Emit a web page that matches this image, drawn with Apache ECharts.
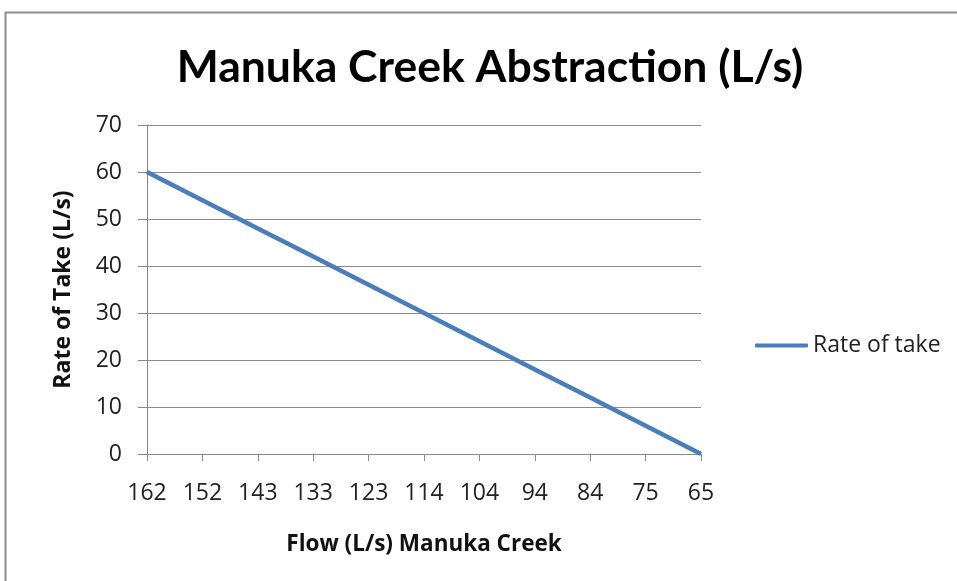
<!DOCTYPE html>
<html>
<head>
<meta charset="utf-8">
<script src="https://cdn.jsdelivr.net/npm/echarts@6/dist/echarts.min.js"></script>
<style>
  html, body { margin: 0; padding: 0; background: #fff; }
  #main { width: 957px; height: 581px; }
</style>
</head>
<body>
<div id="main"></div>
<script>
// flow in the creek (x axis, read left to right)
var flowLabels = ['162', '152', '143', '133', '123', '114', '104', '94', '84', '75', '65'];
// rate of take at each flow
var rateOfTake = [60, 54, 48, 42, 36, 30, 24, 18, 12, 6, 0];
var yTicks = { min: 0, max: 70, interval: 10 };

var FONT = '"Open Sans", Lato, sans-serif';
var chart = echarts.init(document.getElementById('main'));

var option = {
  backgroundColor: '#fff',
  animation: false,
  title: {
    text: 'Manuka Creek Abstraction (L/s)',
    left: 485,
    top: 40,
    textAlign: 'center',
    textStyle: { fontFamily: 'Lato, sans-serif', fontSize: 44.5, fontWeight: 'bold', color: '#000' }
  },
  graphic: [{
    type: 'polyline',
    shape: { points: [[5.5, 600], [5.5, 12.5], [960, 12.5]] },
    style: { stroke: '#8c8c8c', lineWidth: 2, fill: null }
  }],
  legend: {
    data: ['Rate of take'],
    left: 755,
    top: 334,
    padding: 0,
    itemWidth: 53,
    itemHeight: 4,
    itemGap: 5,
    icon: 'roundRect',
    textStyle: { fontFamily: FONT, fontSize: 23, color: '#222', padding: [0, 0, 0, 0] }
  },
  grid: { left: 147, right: 256, top: 125, bottom: 127 },
  xAxis: {
    type: 'category',
    data: flowLabels,
    boundaryGap: false,
    name: 'Flow (L/s) Manuka Creek',
    nameLocation: 'middle',
    nameGap: 79,
    nameTextStyle: { fontFamily: FONT, fontSize: 22.5, fontWeight: 'bold', color: '#111' },
    axisLine: { lineStyle: { color: '#888', width: 1 } },
    axisTick: { show: true, length: 7, lineStyle: { color: '#888' } },
    axisLabel: { fontFamily: FONT, fontSize: 23, color: '#222', margin: 28 },
    splitLine: { show: false }
  },
  yAxis: {
    type: 'value',
    min: yTicks.min,
    max: yTicks.max,
    interval: yTicks.interval,
    name: 'Rate of Take (L/s)',
    nameLocation: 'middle',
    nameRotate: 90,
    nameGap: 72,
    nameTextStyle: { fontFamily: FONT, fontSize: 23, fontWeight: 'bold', color: '#111' },
    axisLine: { show: true, lineStyle: { color: '#888', width: 1 } },
    axisTick: { show: true, length: 9, lineStyle: { color: '#888' } },
    axisLabel: { fontFamily: FONT, fontSize: 23, color: '#222', margin: 25 },
    splitLine: { show: true, lineStyle: { color: '#8c8c8c', width: 1 } }
  },
  series: [{
    name: 'Rate of take',
    type: 'line',
    data: rateOfTake,
    symbol: 'none',
    color: '#4a7ebb',
    lineStyle: { width: 4.5, color: '#4a7ebb' }
  }]
};

chart.setOption(option);
</script>
</body>
</html>
